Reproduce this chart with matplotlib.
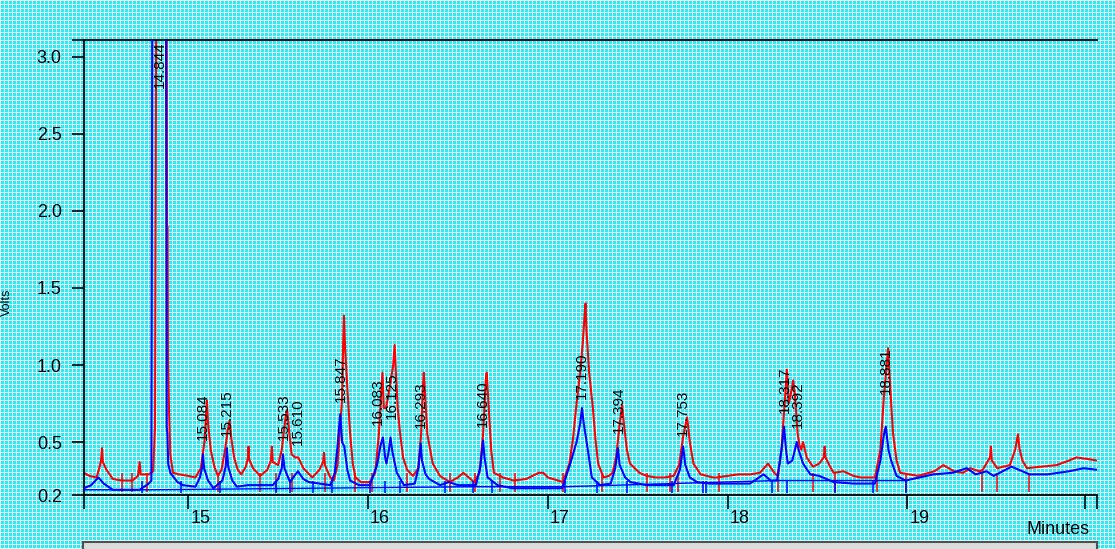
import matplotlib
matplotlib.use("Agg")
import matplotlib.pyplot as plt
import matplotlib.transforms as mtransforms
from matplotlib.patches import Rectangle
import numpy as np

# ---- data (minutes, volts) ----
RED_T = [14.420, 14.450, 14.490, 14.505, 14.515, 14.520, 14.525, 14.545, 14.580, 14.630,
         14.690, 14.720, 14.730, 14.735, 14.780, 14.805, 14.815, 14.822, 14.880, 14.882,
         14.885, 14.887, 14.892, 14.900, 14.915, 14.950, 15.000, 15.040, 15.070, 15.090,
         15.100, 15.104, 15.110, 15.125, 15.145, 15.165, 15.185, 15.205, 15.220, 15.230,
         15.240, 15.255, 15.275, 15.295, 15.320, 15.333, 15.335, 15.338, 15.360, 15.400,
         15.440, 15.460, 15.465, 15.470, 15.500, 15.520, 15.540, 15.550, 15.560, 15.575,
         15.595, 15.612, 15.640, 15.690, 15.730, 15.750, 15.755, 15.760, 15.790, 15.810,
         15.830, 15.845, 15.855, 15.862, 15.866, 15.872, 15.885, 15.900, 15.915, 15.930,
         15.960, 16.010, 16.040, 16.060, 16.075, 16.080, 16.088, 16.100, 16.120, 16.140,
         16.148, 16.155, 16.165, 16.178, 16.195, 16.217, 16.250, 16.280, 16.295, 16.305,
         16.310, 16.318, 16.330, 16.360, 16.400, 16.455, 16.500, 16.530, 16.560, 16.590,
         16.620, 16.640, 16.655, 16.660, 16.670, 16.685, 16.700, 16.750, 16.810, 16.880,
         16.950, 16.975, 17.000, 17.085, 17.120, 17.140, 17.160, 17.180, 17.195, 17.205,
         17.210, 17.215, 17.230, 17.250, 17.265, 17.280, 17.310, 17.340, 17.360, 17.380,
         17.400, 17.413, 17.425, 17.440, 17.457, 17.510, 17.550, 17.600, 17.650, 17.700,
         17.730, 17.755, 17.775, 17.790, 17.810, 17.850, 17.920, 17.940, 18.000, 18.060,
         18.125, 18.180, 18.225, 18.260, 18.280, 18.300, 18.320, 18.330, 18.340, 18.350,
         18.365, 18.375, 18.390, 18.400, 18.410, 18.420, 18.440, 18.475, 18.510, 18.535,
         18.540, 18.545, 18.570, 18.590, 18.645, 18.700, 18.740, 18.820, 18.850, 18.870,
         18.885, 18.893, 18.905, 18.920, 18.940, 18.960, 19.060, 19.150, 19.200, 19.260,
         19.310, 19.350, 19.400, 19.420, 19.460, 19.465, 19.470, 19.500, 19.570, 19.600,
         19.615, 19.625, 19.640, 19.665, 19.750, 19.830, 19.900, 19.940, 20.000, 20.055]
RED_V = [0.30, 0.28, 0.27, 0.33, 0.38, 0.46, 0.37, 0.32, 0.26, 0.25,
         0.25, 0.28, 0.37, 0.29, 0.29, 0.31, 0.60, 3.40, 3.40, 1.90,
         1.90, 1.05, 0.75, 0.42, 0.30, 0.29, 0.28, 0.27, 0.33, 0.50,
         0.70, 0.77, 0.62, 0.45, 0.34, 0.28, 0.32, 0.45, 0.58, 0.64,
         0.52, 0.40, 0.32, 0.29, 0.34, 0.40, 0.47, 0.39, 0.33, 0.28,
         0.32, 0.38, 0.47, 0.37, 0.35, 0.45, 0.65, 0.71, 0.58, 0.42,
         0.40, 0.40, 0.33, 0.27, 0.32, 0.37, 0.43, 0.35, 0.27, 0.25,
         0.35, 0.60, 0.77, 1.15, 1.32, 1.12, 0.85, 0.56, 0.36, 0.27,
         0.24, 0.24, 0.30, 0.55, 0.85, 0.95, 0.72, 0.72, 0.85, 1.00,
         1.13, 0.95, 0.72, 0.56, 0.40, 0.32, 0.28, 0.33, 0.55, 0.85,
         0.95, 0.80, 0.55, 0.36, 0.28, 0.24, 0.27, 0.30, 0.27, 0.24,
         0.30, 0.55, 0.90, 0.95, 0.75, 0.45, 0.30, 0.27, 0.25, 0.26,
         0.30, 0.30, 0.27, 0.24, 0.36, 0.52, 0.75, 0.95, 1.15, 1.33,
         1.40, 1.23, 0.95, 0.73, 0.52, 0.36, 0.27, 0.28, 0.30, 0.40,
         0.62, 0.74, 0.60, 0.45, 0.36, 0.30, 0.28, 0.27, 0.27, 0.28,
         0.35, 0.55, 0.66, 0.50, 0.36, 0.29, 0.27, 0.27, 0.28, 0.29,
         0.29, 0.30, 0.36, 0.30, 0.28, 0.45, 0.80, 0.97, 0.75, 0.80,
         0.90, 0.80, 0.55, 0.48, 0.45, 0.50, 0.40, 0.34, 0.36, 0.40,
         0.47, 0.40, 0.34, 0.30, 0.31, 0.28, 0.27, 0.27, 0.45, 0.80,
         1.00, 1.11, 0.85, 0.56, 0.38, 0.30, 0.28, 0.31, 0.35, 0.31,
         0.30, 0.33, 0.31, 0.32, 0.40, 0.47, 0.38, 0.33, 0.35, 0.45,
         0.55, 0.45, 0.38, 0.33, 0.34, 0.35, 0.38, 0.40, 0.39, 0.38]

BLUE_T = [14.420, 14.460, 14.500, 14.530, 14.580, 14.730, 14.780, 14.795, 14.800, 14.876,
          14.880, 14.884, 14.888, 14.900, 14.940, 14.970, 15.040, 15.065, 15.078, 15.082,
          15.088, 15.110, 15.140, 15.190, 15.208, 15.215, 15.222, 15.245, 15.270, 15.330,
          15.400, 15.470, 15.500, 15.520, 15.527, 15.535, 15.566, 15.590, 15.610, 15.640,
          15.670, 15.790, 15.815, 15.830, 15.845, 15.856, 15.868, 15.885, 15.900, 15.950,
          16.010, 16.050, 16.070, 16.083, 16.095, 16.102, 16.115, 16.125, 16.135, 16.160,
          16.200, 16.260, 16.280, 16.293, 16.300, 16.320, 16.340, 16.400, 16.450, 16.500,
          16.600, 16.625, 16.640, 16.648, 16.665, 16.720, 16.800, 17.080, 17.125, 17.160,
          17.180, 17.190, 17.200, 17.220, 17.245, 17.290, 17.350, 17.375, 17.390, 17.400,
          17.430, 17.460, 17.550, 17.700, 17.735, 17.753, 17.765, 17.790, 17.830, 17.900,
          18.125, 18.200, 18.240, 18.275, 18.300, 18.314, 18.325, 18.335, 18.360, 18.385,
          18.395, 18.420, 18.460, 18.510, 18.590, 18.700, 18.820, 18.850, 18.870, 18.880,
          18.895, 18.910, 18.940, 18.990, 19.145, 19.250, 19.330, 19.380, 19.440, 19.480,
          19.580, 19.680, 19.780, 19.900, 19.980, 20.055]
BLUE_V = [0.20, 0.22, 0.27, 0.23, 0.19, 0.19, 0.23, 0.25, 3.40, 3.40,
          0.60, 0.55, 0.36, 0.30, 0.24, 0.22, 0.21, 0.27, 0.34, 0.42,
          0.33, 0.25, 0.20, 0.25, 0.34, 0.46, 0.34, 0.25, 0.21, 0.22,
          0.22, 0.22, 0.26, 0.33, 0.42, 0.33, 0.24, 0.28, 0.31, 0.26,
          0.24, 0.22, 0.30, 0.47, 0.68, 0.50, 0.47, 0.32, 0.25, 0.22,
          0.22, 0.35, 0.48, 0.53, 0.40, 0.36, 0.44, 0.53, 0.44, 0.30,
          0.22, 0.23, 0.33, 0.49, 0.38, 0.29, 0.26, 0.22, 0.24, 0.22,
          0.22, 0.34, 0.51, 0.40, 0.27, 0.22, 0.20, 0.20, 0.36, 0.50,
          0.62, 0.72, 0.62, 0.47, 0.27, 0.22, 0.23, 0.33, 0.46, 0.35,
          0.27, 0.24, 0.22, 0.22, 0.32, 0.47, 0.35, 0.27, 0.24, 0.23,
          0.23, 0.29, 0.25, 0.25, 0.45, 0.60, 0.45, 0.36, 0.38, 0.50,
          0.45, 0.36, 0.29, 0.28, 0.24, 0.23, 0.23, 0.38, 0.55, 0.60,
          0.45, 0.38, 0.28, 0.25, 0.29, 0.30, 0.33, 0.29, 0.31, 0.28,
          0.34, 0.29, 0.29, 0.31, 0.33, 0.32]

# integration baseline drawn under the blue trace
BASE_T = [14.42, 14.80, 16.60, 17.10, 18.27, 18.99]
BASE_V = [0.19, 0.19, 0.21, 0.21, 0.25, 0.25]

# peak start/stop markers
RED_MARKS = [14.63, 14.685, 14.77, 15.165, 15.40, 15.49, 15.575, 15.76, 15.93, 16.02,
             16.215, 16.456, 16.595, 16.734, 16.818, 17.085, 17.30, 17.55, 17.68, 17.725,
             17.95, 18.28, 18.476, 18.598, 18.83, 18.99, 19.414, 19.498, 19.674]
BLUE_MARKS = [14.74, 14.96, 15.177, 15.49, 15.566, 15.696, 15.798, 16.01, 16.095, 16.178,
              16.43, 16.585, 16.69, 17.096, 17.272, 17.44, 17.69, 17.865, 17.88, 18.245,
              18.33, 18.60, 18.81, 18.99]

PEAK_LABELS = ["14.844", "15.084", "15.215", "15.533", "15.610", "15.847", "16.083", "16.125",
               "16.293", "16.640", "17.190", "17.394", "17.753", "18.317", "18.392", "18.881"]
PEAK_TIMES = [14.844, 15.084, 15.215, 15.533, 15.610, 15.847, 16.083, 16.125,
              16.293, 16.640, 17.190, 17.394, 17.753, 18.317, 18.392, 18.881]

YTICKS = [0.156, 0.5, 1.0, 1.5, 2.0, 2.5, 3.0]
YTICK_LABELS = ["0.2", "0.5", "1.0", "1.5", "2.0", "2.5", "3.0"]
XTICKS = [15, 16, 17, 18, 19]

# ---- layout ----
W, H = 1115, 549
XLIM = (14.42, 20.055)
YLIM = (0.156, 3.11)
# label anchor (minutes, volts) for each peak label, first one hangs from the top
LABEL_X = [14.844, 15.084, 15.215, 15.533, 15.610, 15.847, 16.055, 16.130,
           16.293, 16.640, 17.190, 17.394, 17.753, 18.317, 18.392, 18.881]
LABEL_Y = [3.11, 0.50, 0.53, 0.50, 0.47, 0.75, 0.60, 0.64,
           0.58, 0.59, 0.77, 0.55, 0.53, 0.68, 0.58, 0.80]

plt.rcParams["font.family"] = ["Liberation Sans", "DejaVu Sans"]

fig = plt.figure(figsize=(W / 100, H / 100), dpi=100)

# dotted cyan background (screen-capture texture)
yy, xx = np.mgrid[0:H, 0:W]
bg = np.empty((H, W, 3), dtype=float)
bg[:] = np.array([45, 232, 248]) / 255
white = (xx % 4 == 0) | (yy % 4 == 0)
bg[white] = np.array([225, 255, 255]) / 255
fig.figimage(bg, xo=0, yo=0, zorder=-10)

ax = fig.add_axes([84 / W, 54 / H, 1013 / W, 455 / H])
ax.patch.set_visible(False)

ax.plot(RED_T, RED_V, color="#ff0000", lw=1.5, zorder=2)
ax.vlines(RED_MARKS, 0.175, 0.30, color="#ff0000", lw=1.1, zorder=2)
ax.plot(BASE_T, BASE_V, color="#0000ff", lw=1.0, zorder=3)
ax.plot(BLUE_T, BLUE_V, color="#0000ff", lw=1.5, zorder=3)
ax.vlines(BLUE_MARKS, 0.17, 0.25, color="#0000ff", lw=1.1, zorder=3)

for lab, x, y in zip(PEAK_LABELS, LABEL_X, LABEL_Y):
    va = "top" if y >= YLIM[1] else "bottom"
    ax.text(x, y - (0.01 if va == "top" else -0.01), lab, rotation=90, ha="center", va=va,
            fontsize=11, color="black", zorder=4)

ax.set_xlim(*XLIM)
ax.set_ylim(*YLIM)

ax.set_yticks(YTICKS)
ax.set_yticklabels(YTICK_LABELS)
ax.set_yticks([YLIM[1]], minor=True)
ax.set_xticks(XTICKS)
ax.set_xticklabels([str(x) for x in XTICKS], ha="left")
ax.set_xticks([XLIM[0], 19.99, XLIM[1]], minor=True)

ax.tick_params(axis="y", which="both", direction="out", length=9, width=1.2, pad=7,
               labelsize=13, colors="black")
ax.tick_params(axis="x", which="both", direction="out", length=10, width=1.2, pad=1,
               labelsize=13, colors="black")
offset = mtransforms.ScaledTranslation(2 / 100, 0, fig.dpi_scale_trans)
for lbl in ax.get_xticklabels():
    lbl.set_transform(lbl.get_transform() + offset)

for s in ("top", "left", "bottom"):
    ax.spines[s].set_linewidth(1.3)
    ax.spines[s].set_color("black")
ax.spines["right"].set_visible(False)

fig.text(1090 / W, 1 - 530 / H, "Minutes", ha="right", va="center", fontsize=13)
fig.text(0.001, 0.45, "Volts", rotation=90, ha="left", va="center", fontsize=9)

# scrollbar strip along the bottom edge
fig.add_artist(Rectangle((83 / W, -0.01), (1097 - 83) / W, 7 / H + 0.01,
                         transform=fig.transFigure, facecolor="#dcdcdc",
                         edgecolor="#505050", lw=1.5))

fig.savefig("out.png", dpi=100)
